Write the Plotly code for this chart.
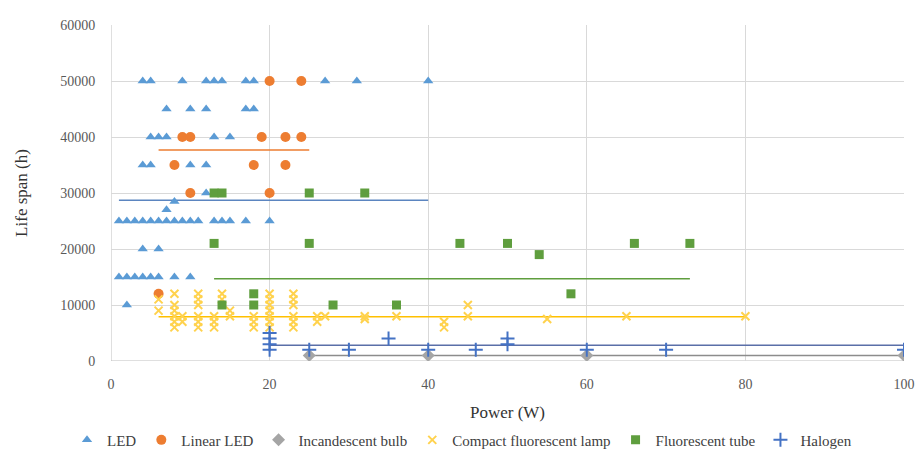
import plotly.graph_objects as go

# ---- data (power W, life span h) ----
led_w = [4, 5, 9, 12, 13, 14, 17, 18, 27, 31, 40,
         7, 10, 12, 17, 18,
         5, 6, 7, 13, 15,
         4, 5, 10, 12,
         12, 8, 7,
         1, 2, 3, 4, 5, 6, 7, 8, 9, 10, 11, 13, 14, 15, 17, 20,
         4, 6,
         1, 2, 3, 4, 5, 6, 8, 10,
         2]
led_h = [50000] * 11 + [45000] * 5 + [40000] * 5 + [35000] * 4 + \
        [30000, 28500, 27000] + [25000] * 16 + [20000] * 2 + [15000] * 8 + [10000]

linear_w = [20, 24, 9, 10, 19, 22, 24, 8, 18, 22, 10, 20, 6]
linear_h = [50000, 50000, 40000, 40000, 40000, 40000, 40000,
            35000, 35000, 35000, 30000, 30000, 12000]

incand_w = [25, 40, 60, 100]
incand_h = [1000, 1000, 1000, 1000]

cfl_w = [6, 6,
         8, 8, 8, 8, 8, 8,
         9, 9,
         11, 11, 11, 11, 11, 11,
         13, 13, 13,
         14, 14,
         15, 15,
         18, 18, 18,
         20, 20, 20, 20, 20, 20, 20,
         23, 23, 23, 23, 23, 23,
         26, 26, 27, 32, 32, 36, 42, 42, 45, 45, 55, 65, 80]
cfl_h = [11000, 9000,
         12000, 10000, 9000, 8000, 7000, 6000,
         8000, 7000,
         12000, 11000, 10000, 8000, 7000, 6000,
         8000, 7000, 6000,
         12000, 11000,
         9000, 8000,
         8000, 7000, 6000,
         12000, 11000, 10000, 9000, 8000, 7000, 6000,
         12000, 11000, 10000, 8000, 7000, 6000,
         8000, 7000, 8000, 8000, 7500, 8000, 7000, 6000, 10000, 8000, 7500, 8000, 8000]

tube_w = [13, 14, 25, 32, 13, 25, 44, 50, 66, 73, 54, 58, 18, 18, 14, 28, 36]
tube_h = [30000, 30000, 30000, 30000, 21000, 21000, 21000, 21000, 21000, 21000,
          19000, 12000, 12000, 10000, 10000, 10000, 10000]

halogen_w = [20, 20, 20, 20, 25, 30, 35, 40, 46, 50, 50, 60, 70, 100]
halogen_h = [5000, 4000, 3000, 2000, 2000, 2000, 4000, 2000, 2000, 4000, 3000,
             2000, 2000, 2000]

# average lines as drawn in the reference: (x start, x end, level)
avg_led = ([1, 40], 28700)
avg_linear = ([6, 25], 37700)
avg_incand = ([25, 100], 1000)
avg_cfl = ([6, 80], 7900)
avg_tube = ([13, 73], 14700)
avg_halogen = ([20, 100], 2800)

C_LED = "#5B9BD5"
C_LIN = "#ED7D31"
C_INC = "#A5A5A5"
C_CFL = "#FFC000"
C_TUBE = "#5F9E3E"
C_HAL = "#4472C4"

FONT = "Liberation Serif, Times New Roman, serif"

fig = go.Figure()

# average lines first so markers sit on top
for (xs, lvl), col in [(avg_led, "#5B85C0"), (avg_linear, C_LIN), (avg_incand, "#8C8C8C"),
                       (avg_cfl, C_CFL), (avg_tube, C_TUBE), (avg_halogen, "#5A6FA8")]:
    fig.add_trace(go.Scatter(x=xs, y=[lvl, lvl], mode="lines",
                             line=dict(color=col, width=1.5),
                             showlegend=False, hoverinfo="skip"))

fig.add_trace(go.Scatter(x=led_w, y=led_h, mode="markers", name="LED",
                         marker=dict(symbol="triangle-up", size=9, color=C_LED)))
fig.add_trace(go.Scatter(x=linear_w, y=linear_h, mode="markers", name="Linear LED",
                         marker=dict(symbol="circle", size=10, color=C_LIN)))
fig.add_trace(go.Scatter(x=incand_w, y=incand_h, mode="markers", name="Incandescent bulb",
                         marker=dict(symbol="diamond", size=10, color=C_INC)))
fig.add_trace(go.Scatter(x=cfl_w, y=cfl_h, mode="markers", name="Compact fluorescent lamp",
                         marker=dict(symbol="x-thin", size=8, color=C_CFL,
                                     line=dict(width=2, color="#FFD24D"))))
fig.add_trace(go.Scatter(x=tube_w, y=tube_h, mode="markers", name="Fluorescent tube",
                         marker=dict(symbol="square", size=9, color=C_TUBE)))
fig.add_trace(go.Scatter(x=halogen_w, y=halogen_h, mode="markers", name="Halogen",
                         marker=dict(symbol="cross-thin", size=10, color=C_HAL,
                                     line=dict(width=2, color=C_HAL))))

fig.update_layout(
    width=924, height=457,
    paper_bgcolor="white", plot_bgcolor="white",
    margin=dict(l=111, r=20, t=25, b=96, autoexpand=False),
    font=dict(family=FONT, size=14, color="#404040"),
    xaxis=dict(
        title=dict(text="Power (W)", font=dict(size=17, color="#333"), standoff=15),
        range=[0, 100], dtick=20, tick0=0,
        showgrid=True, gridcolor="#D9D9D9", gridwidth=1,
        zeroline=False, showline=False, automargin=False,
        ticks="outside", ticklen=10, tickcolor="rgba(0,0,0,0)",
        tickfont=dict(size=14, color="#595959"),
    ),
    yaxis=dict(
        title=dict(text="Life span (h)", font=dict(size=17, color="#333"), standoff=28),
        range=[0, 60000], dtick=10000, tick0=0,
        showgrid=True, gridcolor="#D9D9D9", gridwidth=1,
        zeroline=False, showline=False, automargin=False,
        ticks="outside", ticklen=12, tickcolor="rgba(0,0,0,0)",
        tickfont=dict(size=14, color="#595959"),
        tickformat="d",
    ),
    legend=dict(orientation="h", x=0.5, xref="container", xanchor="center",
                y=0.037, yref="container", yanchor="middle",
                font=dict(size=15, color="#404040"), itemwidth=30,
                tracegroupgap=0),
    showlegend=True,
)

# gray axis lines at x=0 and y=0 like the reference
fig.add_shape(type="line", xref="x", yref="y", x0=0, x1=0, y0=0, y1=60000,
              line=dict(color="#BFBFBF", width=1), layer="below")
fig.add_shape(type="line", xref="x", yref="y", x0=0, x1=100, y0=0, y1=0,
              line=dict(color="#BFBFBF", width=1), layer="below")

fig.write_html("out.html", config={"displayModeBar": False},
               post_script="document.body.style.margin='0';")
